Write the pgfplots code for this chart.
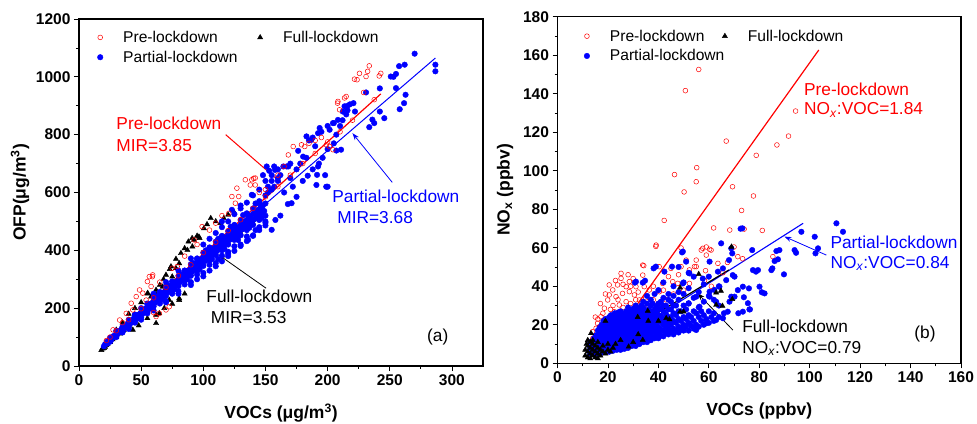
\documentclass[border=0pt]{standalone}
\usepackage{fontspec}
\setmainfont{Liberation Sans}
\usepackage{pgfplots}
\pgfplotsset{compat=1.18}
\usetikzlibrary{arrows.meta}
\newcommand{\ann}{\fontsize{17.3}{20}\selectfont}
\newcommand{\lab}{\fontsize{17.5}{20}\selectfont\bfseries}
\pgfplotsset{
 myaxis/.style={
  scale only axis, clip=false,
  axis line style={line width=1.1pt},
  tick align=outside, xtick pos=left, ytick pos=left,
  major tick length=5pt, minor tick length=3pt, minor tick num=1,
  tick style={black, line width=0.8pt},
  ticklabel style={font=\fontsize{15.5}{18}\selectfont\bfseries},
  /pgf/number format/assume math mode=true,
  /pgf/number format/1000 sep={},
  scaled ticks=false,
  legend columns=2, legend cell align=left,
  legend image code/.code={\path[draw=none] (0pt,0pt) -- (26pt,0pt); \draw[##1] plot coordinates {(3pt,0pt)};},
 },
 pre/.style={only marks, mark=o, mark size=2.4pt, red, mark options={line width=0.5pt}},
 par/.style={only marks, mark=*, mark size=2.8pt, blue},
 full/.style={only marks, mark=triangle*, mark size=3pt, black},
}
\begin{document}
\begin{tikzpicture}
\path[use as bounding box] (0,0) rectangle (977pt,423pt);
% ---------------- panel (a)
\begin{axis}[myaxis, at={(79pt,57pt)}, anchor=south west, width=404pt, height=347pt,
  xmin=0, xmax=325, ymin=0, ymax=1200,
  xtick={0,50,...,300}, ytick={0,200,...,1200},
  xlabel={VOCs (μg/m\textsuperscript{3})}, ylabel={OFP(μg/m\textsuperscript{3})},
  every axis y label/.style={at={(axis description cs:-0.146,0.5)}, rotate=90, anchor=center, font=\lab},
  every axis x label/.style={at={(axis description cs:0.5,-0.135)}, anchor=center, font=\lab},
  legend style={draw=none, fill=none, inner sep=0pt, font=\fontsize{15.6}{18}\selectfont,
    nodes={inner xsep=0pt, inner ysep=3.5pt},
    at={(axis description cs:0.0446,0.976)}, anchor=north west,
    /tikz/column 2/.style={column sep=19.5pt}},
]
\addlegendimage{pre}\addlegendentry{Pre-lockdown}
\addlegendimage{full}\addlegendentry{Full-lockdown}
\addlegendimage{par}\addlegendentry{Partial-lockdown}
% Full-lockdown
\addplot[full, forget plot] table {
x y
18 55
19 60
20 62
21 66
22 72
23 76
25 82
27 92
30 100
33 112
36 124
40 138
44 152
48 168
52 184
56 198
60 212
64 226
68 240
72 254
76 268
80 282
85 300
90 318
95 334
100 352
105 370
110 388
115 406
120 424
125 442
130 460
135 478
140 494
145 512
106 511
120 523
116.5 511
113.8 494
100.5 476
96.5 447
92.5 436
91.2 413
87.2 401
91 442
85 407
97 442
80.6 355
78 338
74 344
75 309
70 315
71 275
67.3 274
62 246
58 240
55.3 252
62 263
88 430
95 450
103 490
110 500
125 530
82 390
78 370
73 335
68 300
65 280
55 250
50 220
45 200
40 180
35 150
30 125
80.6 228
80.6 234
72.6 228
62 177
64.6 182
68.6 200
75 215
85 250
62 148
55 165
48 140
43.3 125
142 528
};
% Partial-lockdown
\addplot[par, forget plot] table {
x y
20 68
21 75
22 80
23 78
24 88
25 92
26 90
27 100
28 104
29 102
30 112
31 110
32 120
33 118
34 126
35 130
36 128
37 138
38 136
39 146
40 148
41 145
42 156
43 152
44 164
45 160
46 172
47 168
48 178
49 176
50 186
51 180
52 194
53 188
54 200
55 196
56 210
57 204
58 216
59 210
60 224
61 218
62 232
63 226
64 238
65 232
66 246
67 240
68 254
69 246
70 262
71 254
72 268
73 262
74 276
75 268
76 284
77 276
78 290
79 284
80 300
81 290
82 308
83 298
84 314
85 306
86 322
87 312
88 330
89 318
90 338
91 326
92 346
93 334
94 354
95 340
96 360
97 348
98 368
99 356
100 376
101 362
102 384
103 370
104 392
105 378
106 398
107 384
108 406
109 392
110 414
111 398
112 420
113 406
114 428
115 414
116 436
117 420
118 444
119 428
120 452
121 436
122 458
123 444
124 466
125 450
126 474
127 458
128 480
129 464
130 488
131 472
132 496
133 480
134 502
135 486
136 510
137 494
138 518
139 500
140 526
141 508
142 532
143 516
144 540
145 522
146 548
147 530
148 556
149 536
150 562
30 122
40 160
50 200
60 238
70 275
80 312
90 352
100 392
110 430
120 466
130 505
140 545
150 590
155 610
160 640
45 178
55 216
65 256
75 292
85 330
95 372
105 410
115 450
125 488
135 528
145 570
30 100
40 136
50 168
60 206
70 242
80 276
90 312
100 346
110 384
120 420
130 452
140 488
150 520
35 118
45 152
55 186
65 222
75 258
85 294
95 328
105 364
115 400
125 436
135 470
145 505
25 98
35 136
45 176
55 214
65 252
75 292
85 330
95 370
105 408
115 448
125 486
135 526
145 564
25 84
35 116
45 150
55 182
65 216
75 250
85 282
95 316
105 350
115 382
125 414
135 448
145 480
40 128
50 160
60 192
70 224
80 258
90 290
100 322
110 356
120 388
130 420
140 452
150 486
22.5 84
27.5 100
32.5 118
37.5 138
42.5 154
47.5 174
52.5 192
57.5 210
62.5 230
67.5 248
72.5 266
77.5 286
82.5 304
87.5 322
92.5 340
97.5 358
102.5 376
107.5 396
112.5 414
117.5 432
122.5 450
127.5 468
132.5 488
137.5 506
142.5 524
147.5 542
60 250
70 290
80 330
90 372
100 420
105 440
110 460
115 480
120 500
125 525
130 545
135 565
140 590
145 610
150 640
155 660
160 680
148 660
153 675
62 240
72 278
82 318
92 356
102 400
112 440
122 482
132 522
142 562
152 600
157 620
100 310
90 280
80 250
70 220
110 345
120 380
130 415
140 450
150 495
95 300
105 330
115 362
125 398
135 432
145 470
97 335
107 370
117 405
127 442
137 478
147 512
87 300
77 266
67 232
57 198
47 164
112 370
120 395
128 436
136 436
142 470
155 471
158 505
171 563
200 620
191 626
184 658
162 520
150 500
168 560
175 585
139 592
123 540
130 555
115 500
152 620
155 640
157 690
151 690
157.7 678
160 650
162 660
165 600
164.4 690
168.4 690
167 690
170 650
170 700
172 620
175 680
176.3 744
180.3 724
178 700
183 720
188 680
191.5 661
192.3 690
193 700
196 720
198 660
198.9 620
180 640
183 794
186.9 782
192.3 805
193.6 823
185 780
188 790
190 760
195 810
200 830
200 750
201.6 817
205 770
205 840
204.3 840
207 745
207 800
208.3 851
210.8 748
210 830
212 850
212.2 880
213.6 898
215 870
216 884
216 900
218 905
220.8 909
222 880
230.9 946
236 852
233.5 826
237.5 840
242 880
242 960
245.6 857
250.8 1001
253 1000
255 1010
255 961
257.5 1037
258 888
261.5 909
262 1042
262.7 938
270 1080
286.7 1042
286.7 1019
};
% Pre-lockdown
\addplot[pre, forget plot] table {
x y
30 122
40 160
50 198
60 236
70 272
80 312
90 350
100 392
110 428
120 468
130 506
140 545
150 585
160 620
170 660
180 700
190 735
200 775
210 810
220 850
233.5 1038
232.2 1019
230.9 1001
223.7 990
221.6 992
225.6 1012
241.5 1003
242.8 1012
229 946
237.5 921
214.9 932
213.6 927
208.3 915
208 909
209.6 886
204.3 748
201.6 759
199 765
181.6 759
179 765
185 770
190 780
195 790
168.4 730
172.3 759
160 660
165 690
150 610
145 600
139 644
141.8 626
137.8 626
140.5 649
133.8 644
141.8 650
128.5 586
125.8 563
127 615
123 586
120.5 528
115 520
110 494
105 470
99 482
95 420
92.6 436
85 380
79 344
75 338
65 290
59.3 315
59 309
56.6 309
58 275
55 292
51.3 252
48.7 263
46 240
43.3 194
42 217
38 182
35 150
32.7 159
27.4 125
25 100
22 88
54 228
64.6 182
70 194
72.6 205
62 171
60 185
};
\addplot[black, line width=1.2pt, forget plot] coordinates {(16.8,55) (144.4,511)};
\addplot[blue, line width=1pt, forget plot] coordinates {(19.4,78) (286.7,1065)};
\addplot[red, line width=1.2pt, forget plot] coordinates {(24.7,96) (242.8,941)};
\draw[-{Stealth[length=7pt,width=5pt]}, red, line width=1pt] (axis cs:118,800) -- (axis cs:163,632);
\draw[-{Stealth[length=7pt,width=5pt]}, blue, line width=0.8pt] (axis cs:252,635) -- (axis cs:220,805);
\draw[-{Stealth[length=7pt,width=5pt]}, black, line width=0.8pt] (axis cs:150.5,269) -- (axis cs:112.5,384);
\node[anchor=west, inner sep=0pt, text=red, font=\ann] at (axis cs:30,838) {Pre-lockdown};
\node[anchor=west, inner sep=0pt, text=red, font=\ann] at (axis cs:30,763) {MIR=3.85};
\node[anchor=west, inner sep=0pt, text=blue, font=\ann] at (axis cs:203.7,588) {Partial-lockdown};
\node[anchor=west, inner sep=0pt, text=blue, font=\ann] at (axis cs:207.7,515) {MIR=3.68};
\node[anchor=west, inner sep=0pt, font=\ann] at (axis cs:102.4,242) {Full-lockdown};
\node[anchor=west, inner sep=0pt, font=\ann] at (axis cs:106,168) {MIR=3.53};
\node[inner sep=0pt, font=\ann] at (axis cs:288.6,99) {(a)};
\end{axis}
% ---------------- panel (b)
\begin{axis}[myaxis, at={(557.5pt,59.7pt)}, anchor=south west, width=403.5pt, height=346.6pt,
  xmin=0, xmax=160, ymin=0, ymax=180,
  xtick={0,20,...,160}, ytick={0,20,...,180},
  xlabel={VOCs (ppbv)}, ylabel={NO\textsubscript{x} (ppbv)},
  every axis y label/.style={at={(axis description cs:-0.130,0.5)}, rotate=90, anchor=center, font=\lab},
  every axis x label/.style={at={(axis description cs:0.5,-0.137)}, anchor=center, font=\lab},
  legend style={draw=none, fill=none, inner sep=0pt, font=\fontsize{15.6}{18}\selectfont,
    nodes={inner xsep=0pt, inner ysep=3.5pt},
    at={(axis description cs:0.065,0.973)}, anchor=north west,
    /tikz/column 2/.style={column sep=-2.5pt}},
]
\addlegendimage{pre}\addlegendentry{Pre-lockdown}
\addlegendimage{full}\addlegendentry{Full-lockdown}
\addlegendimage{par}\addlegendentry{Partial-lockdown}
% Pre-lockdown
\addplot[pre, forget plot] table {
x y
56 152.6
50.7 141.6
94.4 131
91.6 118
87 113.4
66.9 115.4
78.8 108
55.2 101.6
55 94.3
46.4 98
50.2 89
69.4 91.7
77.7 86.9
73 79.4
42.3 74.2
61.9 70.3
68.3 69.2
81.2 69
74 69.7
39 60.7
49 59.9
70 60.4
59 60.4
60.3 59.2
57 58.8
85.4 55.4
73.4 54.3
67.4 52.4
34.2 50.7
40.3 50.2
45 49.3
51 53.6
55 50.2
52.3 48.5
58.7 48.1
65.6 47
71.5 55.4
58.3 43
61 40
25.2 46.7
25.2 44.1
28.5 42.4
20.5 40.7
21.9 38.1
20.5 35.5
19.9 32.9
23.2 34.6
25.8 36.3
28.5 37.2
30.5 35.5
27.2 32
24.5 30.3
18.6 28.6
17.2 24.2
15.9 20.8
15.3 18.2
19.2 22.5
22.5 26.8
27.2 26.8
32.5 32.9
33.8 51
39.1 61.4
34.4 39.8
36.4 38.1
40.4 37.2
41.7 41.5
45.7 42.4
47.7 41.5
52.3 41.5
54.3 50.2
57.6 59.7
60.9 58.8
55 53.6
59 56.2
63.6 51.9
49 50.2
31.1 39.8
33.8 45.8
27.2 39.8
23.8 40.7
16.6 19
13.9 16.4
22 30
24 33
26 29
29 31
31 33
21 28
18 26
16 23
23 43
26 41
29 40
32 37
35 34
38 33
30 28
33 29
36 30
38 40
42 38
44 45
28 46
30 44
17 31
19 36
14 13
15 24
20 19
23 21
26 23
29 24
34 24
37 26
40 31
43 33
46 36
48 46
50 38
};
% Partial-lockdown
\addplot[par, forget plot] table {
x y
13 5
13 8
13 11
14.5 4.5
14.5 7
14.5 10
14.5 13
16 5
16 8
16 11
16 14
16 17
17.5 5.5
17.5 8.5
17.5 11.5
17.5 14.5
17.5 17.5
17.5 20
19 6
19 9
19 12
19 15
19 18
19 21
19 23
20.5 6
20.5 9
20.5 12
20.5 15
20.5 18
20.5 21
20.5 24
22 6.5
22 9.5
22 12.5
22 15.5
22 18.5
22 21.5
22 24.5
23.5 7
23.5 10
23.5 13
23.5 16
23.5 19
23.5 22
23.5 25
25 7
25 10
25 13
25 16
25 19
25 22
25 25
25 27
26.5 7.5
26.5 10.5
26.5 13.5
26.5 16.5
26.5 19.5
26.5 22.5
26.5 25.5
28 8
28 11
28 14
28 17
28 20
28 23
28 26
28 29
29.5 9
29.5 12
29.5 15
29.5 18
29.5 21
29.5 24
29.5 27
31 9
31 12
31 15
31 18
31 21
31 24
31 27
31 30
32.5 10
32.5 13
32.5 16
32.5 19
32.5 22
32.5 25
32.5 28
34 11
34 14
34 17
34 20
34 23
34 26
34 29
34 32
35.5 11
35.5 14
35.5 17
35.5 20
35.5 23
35.5 26
35.5 31
35.5 35
37 12
37 15
37 18
37 21
37 24
37 27
37 30
37 33
38.5 13
38.5 16
38.5 19
38.5 22
38.5 25
38.5 28
38.5 36
40 13
40 16
40 19
40 22
40 25
40 28
40 31
40 38
42 14
42 17
42 20
42 23
42 27
42 30
42 34
42 42
44 15
44 18
44 21
44 24
44 28
44 33
44 36
46 15
46 18
46 22
46 26
46 30
46 35
46 40
48 16
48 19
48 23
48 27
48 33
48 37
48 50
50 17
50 20
50 24
50 30
50 36
50 42
52 17
52 21
52 25
52 31
52 39
52 47
54 18
54 22
54 27
54 34
54 45
56 19
56 24
56 29
56 37
58 20
58 25
58 32
58 41
60 21
60 27
60 35
60 45
62 22
62 26
62 33
64 24
64 30
64 40
13.7 6.5
13.7 9.5
15.2 5.5
15.2 8.5
15.2 11.5
15.2 14.5
16.7 6.5
16.7 9.5
16.7 12.5
16.7 15.5
16.7 18.5
18.2 7
18.2 10
18.2 13
18.2 16
18.2 19
18.2 22
19.7 7.5
19.7 10.5
19.7 13.5
19.7 16.5
19.7 19.5
19.7 22.5
21.2 7.5
21.2 10.5
21.2 13.5
21.2 16.5
21.2 19.5
21.2 22.5
21.2 25
22.7 8
22.7 11
22.7 14
22.7 17
22.7 20
22.7 23
22.7 26
24.2 8.5
24.2 11.5
24.2 14.5
24.2 17.5
24.2 20.5
24.2 23.5
24.2 26.5
25.7 8.5
25.7 11.5
25.7 14.5
25.7 17.5
25.7 20.5
25.7 23.5
27.2 9
27.2 12
27.2 15
27.2 18
27.2 21
27.2 24
27.2 27
28.7 9.5
28.7 12.5
28.7 15.5
28.7 18.5
28.7 21.5
28.7 24.5
28.7 27.5
30.2 10.5
30.2 13.5
30.2 16.5
30.2 19.5
30.2 22.5
30.2 25.5
30.2 28.5
31.7 10.5
31.7 13.5
31.7 16.5
31.7 19.5
31.7 22.5
31.7 25.5
31.7 28.5
33.2 11.5
33.2 14.5
33.2 17.5
33.2 20.5
33.2 23.5
33.2 26.5
33.2 30
34.7 12.5
34.7 15.5
34.7 18.5
34.7 21.5
34.7 24.5
34.7 27.5
36.2 12.5
36.2 15.5
36.2 18.5
36.2 21.5
36.2 24.5
36.2 28
37.7 13.5
37.7 16.5
37.7 19.5
37.7 22.5
37.7 25.5
37.7 31
39.2 14.5
39.2 17.5
39.2 20.5
39.2 23.5
39.2 26.5
39.2 29.5
41 14.5
41 17.5
41 21.5
41 24.5
41 28.5
41 32
43 16
43 19
43 22
43 25.5
43 30
45 16.5
45 20
45 24
45 28
45 32
47 17
47 21
47 25
47 30
49 18
49 22
49 27
51 19
51 23
51 28
53 19.5
53 24
55 20
55 26
57 22
57 27
59 23
61 24
31.1 42.4
34.7 42.9
39 50.2
49.7 58
110.6 72.7
113.2 68.3
96.7 68.3
102 65.7
103.3 59.7
102.3 57.1
94 58.8
94.6 57.4
88 58.8
86.8 58.3
87.4 54
85.2 49.3
89.8 46.2
80.1 39.8
81 36.9
82.1 36.3
77.5 48.4
79.5 48.4
78.7 47.6
73.5 39.8
75.9 38.9
75.5 31.2
73.9 34.3
76.1 28
73.3 70.1
72.6 69.9
68.9 59.7
69.3 57.1
68 53.6
69.5 45.8
70.2 45
64.9 62.3
60.3 52.8
65.6 49.3
63.6 47.6
77.2 58.8
84.8 48.4
86.1 53.1
66.9 43.2
60.3 37.2
62.2 38.1
68.9 34.6
70.2 34.6
73.5 26.8
67.5 26.8
76.3 28
71.7 26
66 26
64.2 39.8
60.3 34.6
62.9 32
56.3 29.4
55 34.6
52 31.2
49.7 41.5
52.3 46.7
57.6 44
59 20.8
55 17.3
49.7 17.3
62.9 22.5
65.6 23.4
68.2 32
71.5 38
49.4 57.6
51 52.8
45.4 50.2
38.1 49.3
42.4 47.6
33.8 41.9
30.7 41.9
};
% Full-lockdown
\addplot[full, forget plot] table {
x y
11 4
12 3
12 6
13 5
13 8
14 4
14 7
14 10
15 3
15 6
15 9
16 5
16 8
16 11
17 4
17 7
18 6
18 9
12 9
13 11
11 7
12 12
19 5
20 7
21 6
22 8
20 10
14 12
13 2.5
16 2.5
11.5 10
13.3 15.6
19 22
69 60.5
56 46.3
48.6 39.3
62.9 36.7
64.8 37.6
69.3 33.3
65.4 29.8
62.9 30.3
50 26.8
48.6 26.8
44.4 22.8
43.1 23.4
31.8 24
35.8 27.2
28.2 8.6
33.8 12.1
36 22
40 22
32 15
25 12
23 10
30 11
};
\addplot[red, line width=1.2pt, forget plot] coordinates {(19.2,7.8) (103.6,162.7)};
\addplot[blue, line width=1.1pt, forget plot] coordinates {(16,5) (97.4,72.7)};
\addplot[black, line width=1.2pt, forget plot] coordinates {(11,3.5) (68,48.5)};
\draw[-{Stealth[length=7pt,width=5pt]}, blue, line width=0.8pt] (axis cs:106.6,56.2) -- (axis cs:90,65.8);
\draw[-{Stealth[length=7pt,width=5pt]}, black, line width=0.8pt] (axis cs:69.5,17.3) -- (axis cs:55.6,36.3);
\node[anchor=west, inner sep=0pt, text=red, font=\ann] at (axis cs:97.7,142.3) {Pre-lockdown};
\node[anchor=west, inner sep=0pt, text=red, font=\ann] at (axis cs:97.7,131.5) {NO\textsubscript{\textit{x}}:VOC=1.84};
\node[anchor=west, inner sep=0pt, text=blue, font=\ann] at (axis cs:108.2,62.8) {Partial-lockdown};
\node[anchor=west, inner sep=0pt, text=blue, font=\ann] at (axis cs:108.2,51.9) {NO\textsubscript{\textit{x}}:VOC=0.84};
\node[anchor=west, inner sep=0pt, font=\ann] at (axis cs:73.2,19) {Full-lockdown};
\node[anchor=west, inner sep=0pt, font=\ann] at (axis cs:73.2,7.8) {NO\textsubscript{\textit{x}}:VOC=0.79};
\node[inner sep=0pt, font=\ann] at (axis cs:145.7,15) {(b)};
\end{axis}
\end{tikzpicture}
\end{document}
